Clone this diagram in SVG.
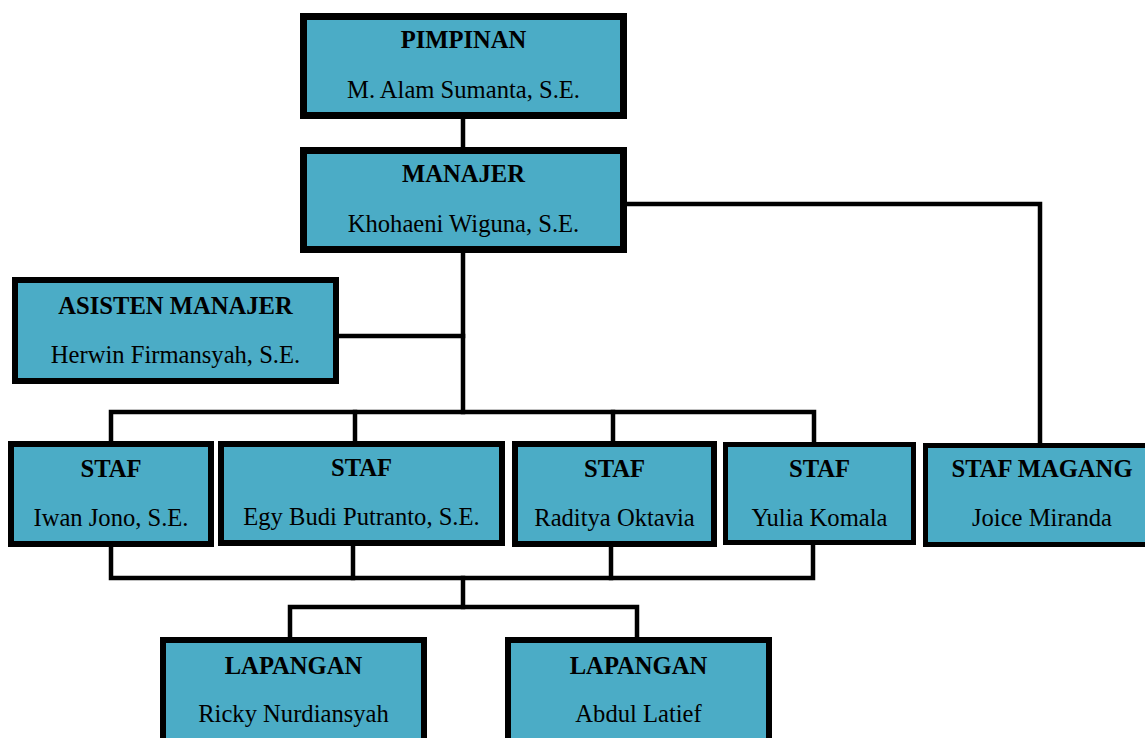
<svg xmlns="http://www.w3.org/2000/svg" width="1145" height="738" viewBox="0 0 1145 738">
<style>
.box{fill:#4bacc6;stroke:#000;}
.w7{stroke-width:7}
.w6{stroke-width:6}
.w5{stroke-width:5}
.t{font-family:"Liberation Serif","Times New Roman",serif;font-size:24.6px;fill:#000;text-anchor:middle}
.b{font-weight:bold}
.c{fill:none;stroke:#000;stroke-width:4.5;stroke-linejoin:miter;stroke-linecap:square}
</style>
<rect width="1145" height="738" fill="#fff"/>
<g id="connectors">
<path class="c" d="M463,119 V147"/>
<path class="c" d="M627,204 H1040 V443"/>
<path class="c" d="M463,253 V412"/>
<path class="c" d="M339,336 H463"/>
<path class="c" d="M111,441 V412 H814 V441"/>
<path class="c" d="M355,412 V441"/>
<path class="c" d="M613,412 V441"/>
<path class="c" d="M111,547 V578 H813 V545"/>
<path class="c" d="M353,546 V578"/>
<path class="c" d="M611,547 V578"/>
<path class="c" d="M463,578 V607"/>
<path class="c" d="M290,637 V607 H637 V637"/>
</g>
<g id="pimpinan">
<rect class="box w7" x="303.5" y="16.5" width="320" height="99"/>
<text class="t b" x="463.5" y="48">PIMPINAN</text>
<text class="t" x="463.5" y="98">M. Alam Sumanta, S.E.</text>
</g>
<g id="manajer">
<rect class="box w7" x="303.5" y="150.5" width="320" height="99"/>
<text class="t b" x="463.5" y="182">MANAJER</text>
<text class="t" x="463.5" y="232">Khohaeni Wiguna, S.E.</text>
</g>
<g id="asisten">
<rect class="box w6" x="15" y="280" width="321" height="101"/>
<text class="t b" x="175.5" y="314">ASISTEN MANAJER</text>
<text class="t" x="175.5" y="363">Herwin Firmansyah, S.E.</text>
</g>
<g id="staf1">
<rect class="box w6" x="11" y="444" width="200" height="100"/>
<text class="t b" x="111" y="477">STAF</text>
<text class="t" x="111" y="526">Iwan Jono, S.E.</text>
</g>
<g id="staf2">
<rect class="box w6" x="221" y="444" width="281" height="99"/>
<text class="t b" x="361.5" y="476">STAF</text>
<text class="t" x="361.5" y="525">Egy Budi Putranto, S.E.</text>
</g>
<g id="staf3">
<rect class="box w6" x="515" y="444" width="199" height="100"/>
<text class="t b" x="614.5" y="477">STAF</text>
<text class="t" x="614.5" y="526">Raditya Oktavia</text>
</g>
<g id="staf4">
<rect class="box w5" x="725.5" y="444.5" width="188" height="98"/>
<text class="t b" x="819.5" y="477">STAF</text>
<text class="t" x="819.5" y="526">Yulia Komala</text>
</g>
<g id="stafmagang">
<rect class="box w5" x="925.5" y="445.5" width="232" height="99"/>
<text class="t b" x="1042" y="477">STAF MAGANG</text>
<text class="t" x="1042" y="526">Joice Miranda</text>
</g>
<g id="lapangan1">
<rect class="box w6" x="163" y="640" width="261" height="110"/>
<text class="t b" x="293.5" y="674">LAPANGAN</text>
<text class="t" x="293.5" y="722">Ricky Nurdiansyah</text>
</g>
<g id="lapangan2">
<rect class="box w6" x="508" y="640" width="261" height="110"/>
<text class="t b" x="638.5" y="674">LAPANGAN</text>
<text class="t" x="638.5" y="722">Abdul Latief</text>
</g>
</svg>
